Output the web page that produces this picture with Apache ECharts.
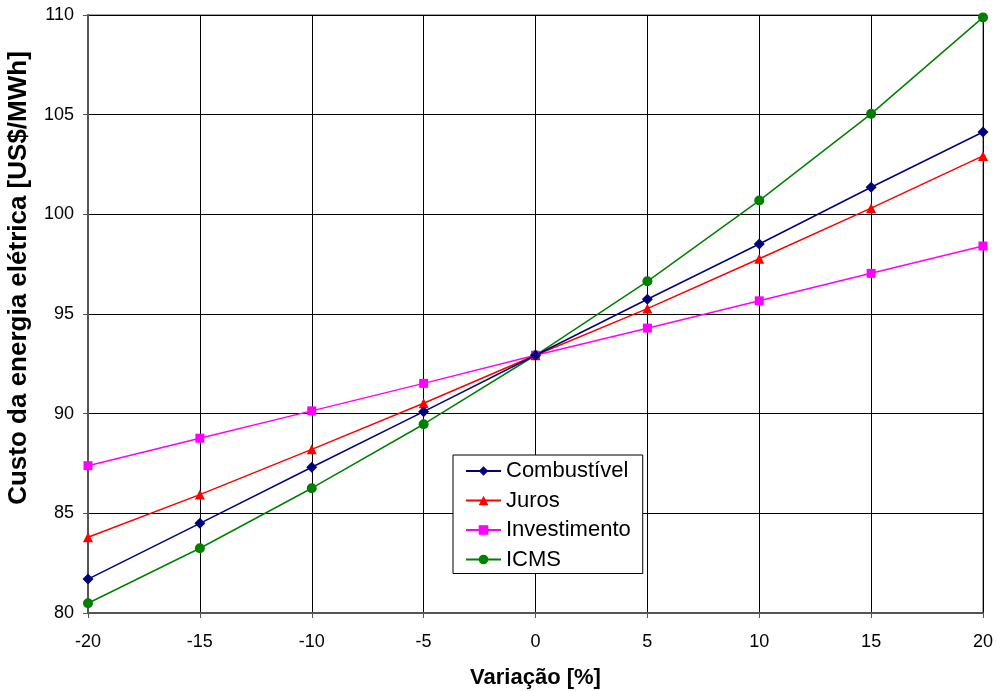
<!DOCTYPE html>
<html><head><meta charset="utf-8">
<script src="https://cdn.jsdelivr.net/npm/echarts@6/dist/echarts.min.js"></script>
<style>html,body{margin:0;padding:0;background:#fff}#c{width:997px;height:691px}</style>
</head><body><div id="c"></div>
<script>
const variacao = [-20, -15, -10, -5, 0, 5, 10, 15, 20];
const combustivel = [81.70, 84.50, 87.31, 90.10, 92.93, 95.74, 98.51, 101.36, 104.13];
const juros = [83.80, 85.94, 88.21, 90.52, 92.93, 95.27, 97.77, 100.31, 102.93];
const investimento = [87.39, 88.77, 90.14, 91.52, 92.93, 94.29, 95.66, 97.04, 98.41];
const icms = [80.49, 83.25, 86.26, 89.47, 92.93, 96.64, 100.69, 105.04, 109.88];
const names = ['Combustível', 'Juros', 'Investimento', 'ICMS'];
const colors = ['#000080', '#FF0000', '#FF00FF', '#008000'];
const symbols = ['diamond', 'triangle', 'rect', 'circle'];
const sizes = [11, 10, 9, 10];
const values = [combustivel, juros, investimento, icms];
const xTitle = 'Variação [%]';
const yTitle = 'Custo da energia elétrica [US$/MWh]';

const font = 'Liberation Sans, Arial, sans-serif';
const chart = echarts.init(document.getElementById('c'), null, {renderer: 'canvas'});
chart.setOption({
  animation: false,
  backgroundColor: '#fff',
  grid: {left: 88, right: 14, top: 15, bottom: 78, outerBoundsMode: 'none', containLabel: false,
         show: true, borderColor: '#888', borderWidth: 1.5},
  xAxis: {
    type: 'value', min: -20, max: 20, interval: 5,
    name: xTitle, nameLocation: 'middle', nameGap: 54, nameMoveOverlap: false,
    nameTextStyle: {fontFamily: font, fontSize: 22, fontWeight: 'bold', color: '#000'},
    axisLine: {show: true, onZero: false, lineStyle: {color: '#555', width: 2}},
    axisTick: {show: true, inside: false, length: 5, lineStyle: {color: '#555'}},
    axisLabel: {fontFamily: font, fontSize: 18, color: '#000', margin: 20},
    splitLine: {show: true, lineStyle: {color: '#000', width: 1}}
  },
  yAxis: {
    type: 'value', min: 80, max: 110, interval: 5,
    axisLine: {show: true, onZero: false, lineStyle: {color: '#555', width: 2}},
    axisTick: {show: true, length: 5, lineStyle: {color: '#555'}},
    axisLabel: {fontFamily: font, fontSize: 18, color: '#000', margin: 14},
    splitLine: {show: true, lineStyle: {color: '#000', width: 1}}
  },
  graphic: [{
    type: 'text', x: 19, y: 278, rotation: Math.PI / 2,
    style: {text: yTitle, fontFamily: font, fontSize: 26, fontWeight: 'bold', fill: '#000',
            align: 'center', verticalAlign: 'middle'}
  }],
  legend: {
    orient: 'vertical', left: 453, top: 455,
    backgroundColor: '#fff', borderColor: '#000', borderWidth: 1,
    padding: [5, 12, 3, 12], itemGap: 7.5, itemWidth: 35, itemHeight: 12,
    textStyle: {fontFamily: font, fontSize: 22, color: '#000'},
    data: names
  },
  series: names.map((n, i) => ({
    name: n, type: 'line',
    data: variacao.map((x, j) => [x, values[i][j]]),
    symbol: symbols[i], symbolSize: sizes[i],
    lineStyle: {color: colors[i], width: 1.5},
    itemStyle: {color: colors[i]},
    z: 10 - i
  }))
});
</script></body></html>
